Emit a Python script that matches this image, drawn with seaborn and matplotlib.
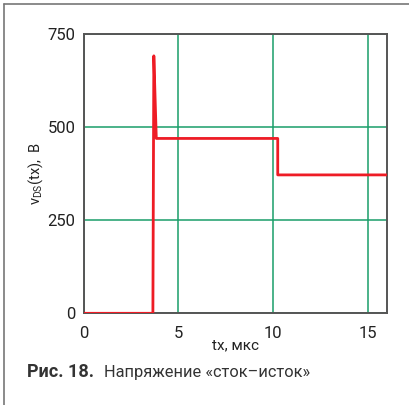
import pandas as pd
import seaborn as sns
import matplotlib.pyplot as plt
from matplotlib.lines import Line2D

# values
t_us = [0, 3.65, 3.70, 3.83, 10.25, 10.25, 16]
v_ds = [0, 0, 692, 470, 470, 372, 372]
x_ticks = [0, 5, 10, 15]
y_ticks = [0, 250, 500, 750]

data = pd.DataFrame({'t': t_us, 'v': v_ds})

sns.set_style('white')
plt.rcParams['font.family'] = ['Roboto', 'DejaVu Sans']
plt.rcParams['mathtext.default'] = 'regular'

fig = plt.figure(figsize=(4.09, 4.05), dpi=100)
ax = fig.add_axes([0.205, 0.2264, 0.74, 0.689])

sns.lineplot(x='t', y='v', data=data, ax=ax, color='#ee1c25', linewidth=2.0,
             sort=False, estimator=None, zorder=3)

ax.set_xlim(0, 16)
ax.set_ylim(0, 750)
ax.set_xticks(x_ticks)
ax.set_yticks(y_ticks)
ax.grid(True, color='#1a9e6a', linewidth=1.1)
ax.tick_params(axis='both', length=0, labelsize=12, colors='#222222')
ax.tick_params(axis='x', pad=9)
ax.tick_params(axis='y', pad=6)
for s in ax.spines.values():
    s.set_color('#555555')
    s.set_linewidth(1.4)

ax.set_xlabel('tx, мкс', fontsize=11, color='#222222', labelpad=-2)
ax.set_ylabel('v$_{DS}$(tx),  В', fontsize=10.5, color='#222222', labelpad=2)

# caption
fig.text(0.066, 0.069, 'Рис. 18.', fontsize=13, fontweight='bold', color='#333333')
fig.text(0.254, 0.069, 'Напряжение «сток–исток»', fontsize=11.8, color='#333333')

# frame at top and left
fig.add_artist(Line2D([0.01, 0.01], [0, 0.99], transform=fig.transFigure, color='#777777', linewidth=1.2))
fig.add_artist(Line2D([0.01, 1], [0.99, 0.99], transform=fig.transFigure, color='#777777', linewidth=1.2))

plt.savefig('out.png', dpi=100)
